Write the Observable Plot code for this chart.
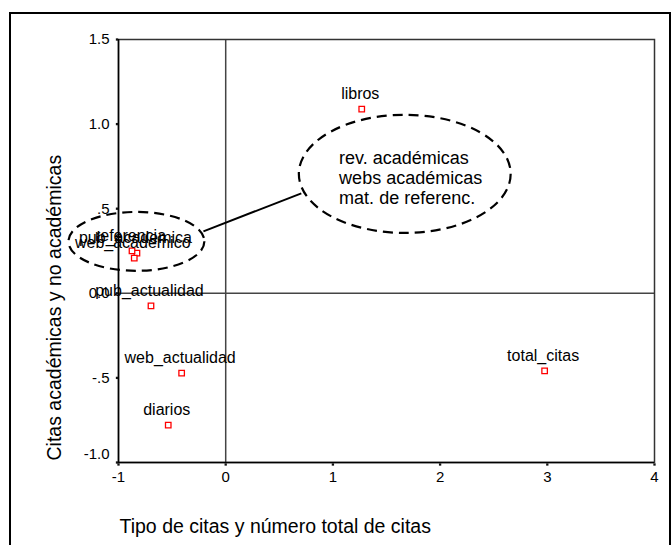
<!DOCTYPE html>
<html>
<head>
<meta charset="utf-8">
<script src="https://cdn.jsdelivr.net/npm/d3@7"></script>
<script src="https://cdn.jsdelivr.net/npm/@observablehq/plot@0.6"></script>
<style>
html, body { margin: 0; padding: 0; background: #fff; overflow: hidden; }
#wrap { position: relative; width: 672px; height: 545px; overflow: hidden; }
#border { position: absolute; left: 9px; top: 12px; width: 662px; height: 600px; border: 2px solid #000; box-sizing: border-box; }
#chart { position: absolute; left: 0; top: 0; }
</style>
</head>
<body>
<div id="wrap"><div id="border"></div><div id="chart"></div></div>
<script>
// ---- data ----
const pointLabels = ["libros", "pub_academica", "referencia", "web_academico", "pub_actualidad", "web_actualidad", "diarios", "total_citas"];
const dim1Values = [1.269, -0.828, -0.874, -0.853, -0.697, -0.411, -0.536, 2.975];
const dim2Values = [1.089, 0.237, 0.251, 0.208, -0.074, -0.472, -0.779, -0.458];

const xTickValues = [-1, 0, 1, 2, 3, 4];
const xTickLabels = ["-1", "0", "1", "2", "3", "4"];
const yTickValues = [1.5, 1.0, 0.5, 0.0, -0.5, -1.0];
const yTickLabels = ["1.5", "1.0", ".5", "0.0", "-.5", "-1.0"];

const xTitle = "Tipo de citas y número total de citas";
const yTitle = "Citas académicas y no académicas";
const noteLines = ["rev. académicas", "webs académicas", "mat. de referenc."];

// annotation geometry in data units
const smallEllipse = {cx: -0.828, cy: 0.304, rx: 0.634, ry: 0.174};
const bigEllipse = {cx: 1.675, cy: 0.703, rx: 0.988, ry: 0.349};
const connector = [{x: -0.203, y: 0.363}, {x: 0.710, y: 0.588}];
const noteAnchor = {x: 1.058, y: 0.848};

const points = pointLabels.map((label, i) => ({label, x: dim1Values[i], y: dim2Values[i]}));
const font = "Arial, 'Liberation Sans', Helvetica, sans-serif";

const plot = Plot.plot({
  width: 672,
  height: 545,
  marginLeft: 118,
  marginRight: 18,
  marginTop: 39,
  marginBottom: 83,
  style: {fontFamily: font, fontSize: "15px", background: "transparent", color: "#000"},
  x: {domain: [-1, 4]},
  y: {domain: [-1, 1.5]},
  marks: [
    Plot.ruleX([0], {stroke: "#444", strokeWidth: 1.5}),
    Plot.ruleY([0], {stroke: "#444", strokeWidth: 1.5}),
    Plot.frame({stroke: "#333", strokeWidth: 1.5}),
    Plot.ruleX([-1], {stroke: "#000", strokeWidth: 1.5}),
    Plot.ruleY([-1], {stroke: "#000", strokeWidth: 1.5}),
    Plot.axisX(xTickValues, {tickSize: 0, tickPadding: 9, fontSize: 15, label: null,
      tickFormat: d => xTickLabels[xTickValues.indexOf(d)]}),
    Plot.axisY(yTickValues.filter(d => d !== -1), {tickSize: 0, tickPadding: 9, fontSize: 15, label: null,
      tickFormat: d => yTickLabels[yTickValues.indexOf(d)]}),
    Plot.axisY([-1], {tickSize: 0, tickPadding: 9, fontSize: 15, label: null, dy: -8,
      tickFormat: d => yTickLabels[yTickValues.indexOf(d)]}),
    Plot.dot(xTickValues, {x: d => d, y: () => -1, symbol: "square", r: 1.3, fill: "#111", dy: 2}),
    Plot.dot(yTickValues, {x: () => -1, y: d => d, symbol: "square", r: 1.3, fill: "#111", dx: -1.5}),
    Plot.dot(points, {x: "x", y: "y", symbol: "square", r: 3.1, stroke: "#f00", strokeWidth: 1.3, fill: "#fff"}),
    Plot.text(points, {x: "x", y: "y", text: "label", dy: -15, dx: -1.5, fontSize: 16, fill: "#000"}),
    Plot.text([noteLines.join("\n")], {x: () => noteAnchor.x, y: () => noteAnchor.y, textAnchor: "start",
      lineAnchor: "top", lineHeight: 1.11, fontSize: 18, fill: "#000"}),
    Plot.text([xTitle], {frameAnchor: "bottom-left", textAnchor: "start", lineAnchor: "top",
      dx: 1, dy: 57, fontSize: 19.5, fill: "#000"}),
    Plot.text([yTitle], {frameAnchor: "bottom-left", textAnchor: "start", lineAnchor: "top",
      rotate: -90, dx: -71, dy: -2, fontSize: 19.5, fill: "#000"})
  ]
});

// dashed ellipses and connector, positioned through the plot's own scales
const sx = plot.scale("x").apply, sy = plot.scale("y").apply;
const svg = d3.select(plot);
const g = svg.append("g").attr("fill", "none").attr("stroke", "#000");
for (const e of [smallEllipse, bigEllipse]) {
  const cx = sx(e.cx), cy = sy(e.cy);
  g.append("ellipse")
    .attr("cx", cx).attr("cy", cy)
    .attr("rx", Math.abs(sx(e.cx + e.rx) - cx))
    .attr("ry", Math.abs(sy(e.cy + e.ry) - cy))
    .attr("stroke-width", 2.2)
    .attr("stroke-dasharray", "10,6");
}
g.append("line")
  .attr("x1", sx(connector[0].x)).attr("y1", sy(connector[0].y))
  .attr("x2", sx(connector[1].x)).attr("y2", sy(connector[1].y))
  .attr("stroke-width", 2);

document.getElementById("chart").appendChild(plot);
</script>
</body>
</html>
